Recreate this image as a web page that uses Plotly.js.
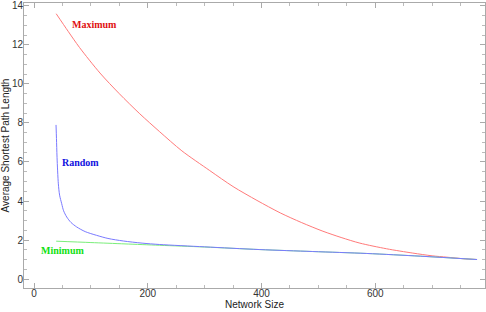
<!DOCTYPE html>
<html><head><meta charset="utf-8">
<script src="https://cdn.plot.ly/plotly-3.0.1.min.js"></script>
<style>html,body{margin:0;padding:0;background:#fff}#c{width:486px;height:312px}</style>
</head><body><div id="c"></div>
<script>
const maxX = [39, 60, 80, 116, 150, 186, 221, 260, 309, 350, 392, 433, 470, 508, 540, 573, 620, 666, 700, 726, 755, 779];
const maxY = [13.6, 12.7, 11.87, 10.56, 9.5, 8.47, 7.55, 6.57, 5.56, 4.74, 4.03, 3.39, 2.9, 2.45, 2.13, 1.84, 1.55, 1.33, 1.19, 1.12, 1.04, 1.0];
const rndX = [38.7, 39.5, 40.5, 42.8, 45, 48.7, 52, 57.5, 65, 75, 90, 110, 130, 157, 190, 221, 300, 397, 490, 585, 680, 779];
const rndY = [7.9, 7.2, 6.24, 4.88, 4.3, 3.86, 3.5, 3.18, 2.9, 2.67, 2.43, 2.24, 2.08, 1.95, 1.84, 1.77, 1.65, 1.51, 1.41, 1.31, 1.17, 1.0];
const minX = [39, 100, 160, 221, 300, 397, 490, 585, 680, 779];
const minY = [1.94, 1.87, 1.8, 1.73, 1.64, 1.51, 1.41, 1.31, 1.17, 1.0];
const labels = ["Maximum", "Random", "Minimum"];
const labelX = [107, 81, 50];
const labelY = [13.03, 5.99, 1.48];
const lineColors = ["#ff7a7a", "#7a7aff", "#7aee7a"];
const textColors = ["#e01010", "#1010e0", "#10e010"];

const traces = [
  {x: maxX, y: maxY, mode: 'lines', line: {color: lineColors[0], width: 1, shape: 'spline', smoothing: 0.8}},
  {x: minX, y: minY, mode: 'lines', line: {color: lineColors[2], width: 1, shape: 'spline', smoothing: 0.8}},
  {x: rndX, y: rndY, mode: 'lines', line: {color: lineColors[1], width: 1, shape: 'spline', smoothing: 0.8}}
];
const annotations = labels.map((t, i) => ({
  x: labelX[i], y: labelY[i], text: '<b>' + t + '</b>', showarrow: false,
  font: {family: 'Liberation Serif, Times New Roman, serif', size: 10, color: textColors[i]}
}));
const axisCommon = {
  showgrid: false, zeroline: false, showline: true, linecolor: '#aaa', linewidth: 1,
  mirror: 'allticks', ticks: 'inside', ticklen: 5, tickcolor: '#aaa', tickwidth: 1,
  tickfont: {family: 'Liberation Sans, Arial, sans-serif', size: 10, color: '#333'},
  ticklabeloverflow: 'allow',
  automargin: false
};
const layout = {
  width: 486, height: 312,
  margin: {l: 24, r: 1, t: 3, b: 24},
  paper_bgcolor: '#fff', plot_bgcolor: '#fff',
  showlegend: false,
  xaxis: Object.assign({}, axisCommon, {
    range: [-17.6, 793], tickvals: [0, 200, 400, 600],
    ticklabelstandoff: -4,
    minor: {dtick: 50, tick0: 0, ticks: 'inside', ticklen: 3, tickcolor: '#bbb'},
    title: {text: 'Network Size', standoff: 0, font: {family: 'Liberation Sans, Arial, sans-serif', size: 10, color: '#222'}}
  }),
  yaxis: Object.assign({}, axisCommon, {
    range: [-0.46, 14.15], tickvals: [0, 2, 4, 6, 8, 10, 12, 14],
    ticklabelstandoff: -2,
    minor: {dtick: 0.5, tick0: 0, ticks: 'inside', ticklen: 3, tickcolor: '#bbb'},
    title: {text: 'Average Shortest Path Length', standoff: 2, font: {family: 'Liberation Sans, Arial, sans-serif', size: 10, color: '#222'}}
  }),
  annotations: annotations
};
Plotly.newPlot('c', traces, layout, {displayModeBar: false, staticPlot: true});
</script></body></html>
